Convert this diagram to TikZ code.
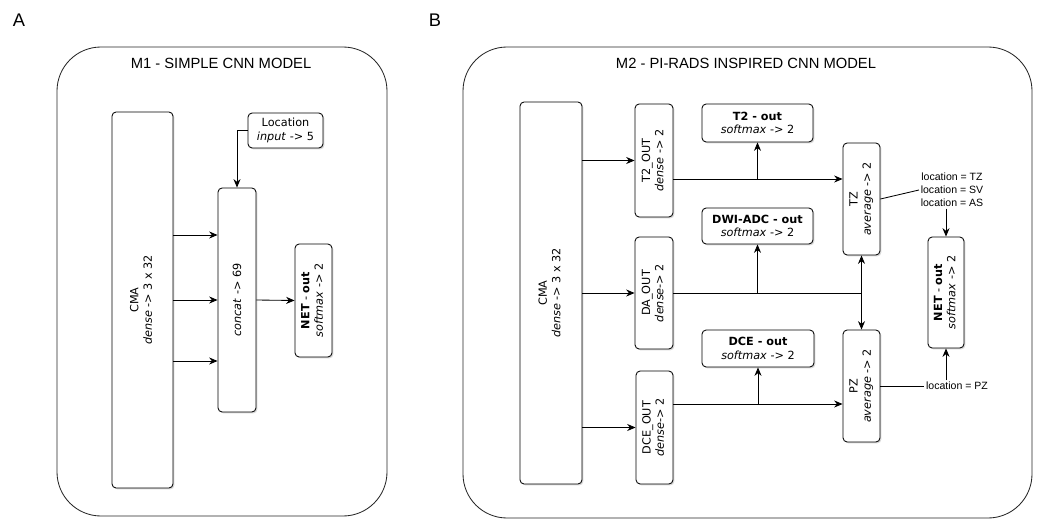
\documentclass[tikz,border=0pt]{standalone}
\usepackage{fontspec}
\usepackage{graphicx}
\setmainfont{Liberation Sans}
\newfontfamily\boxfont{DejaVu Sans}
\usetikzlibrary{arrows.meta,shadows}
\begin{document}
\begin{tikzpicture}[x=0.025cm,y=-0.025cm,line width=0.6pt,
    >={Stealth[length=6pt,width=5pt]},
    panel/.style={draw=black!85,rounded corners=1.1cm},
    layer/.style={draw,rounded corners=3pt,fill=white,inner sep=0pt,
      font=\boxfont\fontsize{8}{9.5}\selectfont,align=center,
      drop shadow={shadow xshift=1pt,shadow yshift=-1pt,fill=black!30}},
    tag/.style={font=\fontsize{7.5}{9.2}\selectfont,align=center,inner sep=1pt}]
    \useasboundingbox (0,0) rectangle (1039,519);
    % panel A
    \node (labA) at (19,20) {\fontsize{13}{15}\selectfont A};
    \draw[panel] (57,47) rectangle (387,516);
    \node (titA) at (221,63) {\fontsize{10.5}{12}\selectfont M1 - SIMPLE CNN MODEL};
    \node[layer,minimum width=1.525cm,minimum height=9.4cm] (cmaA) at (142.5,300)
      {\rotatebox{90}{\begin{tabular}{c}CMA\\\textit{dense} -> 3 x 32\end{tabular}}};
    \node[layer,minimum width=1.875cm,minimum height=0.875cm] (locA) at (285.5,130.5)
      {Location\\\textit{input} -> 5};
    \node[layer,minimum width=0.95cm,minimum height=5.6cm] (concatA) at (237,300)
      {\rotatebox{90}{\textit{concat} -> 69}};
    \node[layer,minimum width=0.925cm,minimum height=2.825cm] (netA) at (313.5,300.5)
      {\rotatebox{90}{\begin{tabular}{c}\textbf{NET} - \textbf{out}\\\textit{softmax} -> 2\end{tabular}}};
    \foreach \yy in {235,300,361}
      \draw[->] (cmaA.east |- 0,\yy) -- (concatA.west |- 0,\yy);
    \draw[->] (locA.west) -| (concatA.north);
    \draw[->] (concatA.east) -- (netA.west);
    % panel B
    \node (labB) at (435,20) {\fontsize{13}{15}\selectfont B};
    \draw[panel] (463,47) rectangle (1032,518);
    \node (titB) at (746,63) {\fontsize{10.5}{12}\selectfont M2 - PI-RADS INSPIRED CNN MODEL};
    \node[layer,minimum width=1.55cm,minimum height=9.55cm] (cmaB) at (551,293)
      {\rotatebox{90}{\begin{tabular}{c}CMA\\\textit{dense} -> 3 x 32\end{tabular}}};
    \node[layer,minimum width=0.95cm,minimum height=2.825cm] (t2o) at (654,160.5)
      {\rotatebox{90}{\begin{tabular}{c}T2\_OUT\\\textit{dense} -> 2\end{tabular}}};
    \node[layer,minimum width=0.95cm,minimum height=2.8cm] (dao) at (654,293)
      {\rotatebox{90}{\begin{tabular}{c}DA\_OUT\\\textit{dense}-> 2\end{tabular}}};
    \node[layer,minimum width=0.925cm,minimum height=2.825cm] (dceo) at (654.5,427.5)
      {\rotatebox{90}{\begin{tabular}{c}DCE\_OUT\\\textit{dense}-> 2\end{tabular}}};
    \node[layer,minimum width=2.775cm,minimum height=0.95cm] (t2out) at (757.5,123)
      {\textbf{T2 - out}\\\textit{softmax} -> 2};
    \node[layer,minimum width=2.775cm,minimum height=0.9cm] (dwiout) at (757.5,226)
      {\textbf{DWI-ADC - out}\\\textit{softmax} -> 2};
    \node[layer,minimum width=2.8cm,minimum height=0.925cm] (dceout) at (758,348.5)
      {\textbf{DCE - out}\\\textit{softmax} -> 2};
    \node[layer,minimum width=0.925cm,minimum height=2.8cm] (tz) at (861.5,199)
      {\rotatebox{90}{\begin{tabular}{c}TZ\\\textit{average} -> 2\end{tabular}}};
    \node[layer,minimum width=0.925cm,minimum height=2.8cm] (pz) at (861.5,386)
      {\rotatebox{90}{\begin{tabular}{c}PZ\\\textit{average} -> 2\end{tabular}}};
    \node[layer,minimum width=0.9cm,minimum height=2.775cm] (netB) at (946,292.5)
      {\rotatebox{90}{\begin{tabular}{c}\textbf{NET} - \textbf{out}\\\textit{softmax} -> 2\end{tabular}}};
    \node[tag] (locTZ) at (952,190) {location = TZ\\location = SV\\location = AS};
    \node[tag] (locPZ) at (957,386) {location = PZ};
    \draw[->] (cmaB.east |- t2o.west) -- (t2o.west);
    \draw[->] (cmaB.east |- dao.west) -- (dao.west);
    \draw[->] (cmaB.east |- dceo.west) -- (dceo.west);
    \draw[->] (t2o.east |- 0,179) -- (tz.west |- 0,179);
    \draw[->] (t2out.south |- 0,179) -- (t2out.south);
    \coordinate (split) at (tz.south |- dao.east);
    \draw (dao.east) -- (split);
    \draw[->] (dwiout.south |- dao.east) -- (dwiout.south);
    \draw[->] (split) -- (tz.south);
    \draw[->] (split) -- (pz.north);
    \draw[->] (dceo.east |- 0,404) -- (pz.west |- 0,404);
    \draw[->] (dceout.south |- 0,404) -- (dceout.south);
    \draw (tz.east) -- (locTZ.west);
    \draw[->] (locTZ.south -| netB.north) -- (netB.north);
    \draw (pz.east) -- (locPZ.west);
    \draw[->] (locPZ.north -| netB.south) -- (netB.south);
\end{tikzpicture}
\end{document}
